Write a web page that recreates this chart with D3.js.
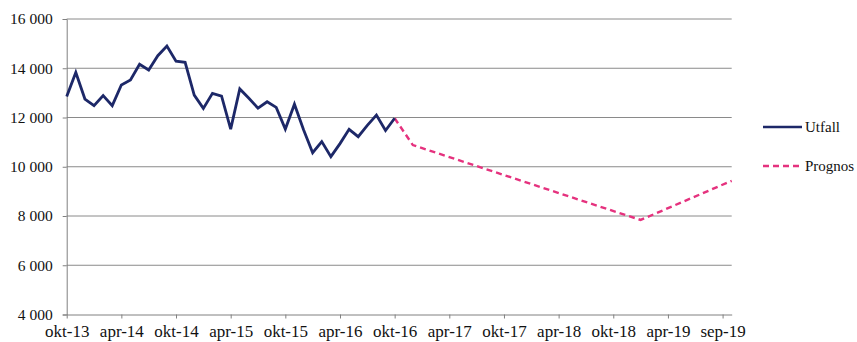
<!DOCTYPE html>
<html>
<head>
<meta charset="utf-8">
<script src="https://cdn.jsdelivr.net/npm/d3@7/dist/d3.min.js"></script>
<style>
  html, body { margin: 0; padding: 0; background: #fff; }
  svg { display: block; }
</style>
</head>
<body>
<svg id="chart" width="857" height="342"></svg>
<script>
// Monthly outcome, okt-13 .. okt-16 (month index 0 = okt-13)
const utfallMonths = d3.range(0, 37);
const utfallValues = [
  12850, 13830, 12750, 12480, 12890, 12480, 13320, 13520, 14160, 13930,
  14510, 14900, 14290, 14240, 12910, 12370, 12980, 12870, 11530, 13160,
  12780, 12380, 12640, 12410, 11530, 12540, 11500, 10570, 11020, 10410,
  10940, 11520, 11220, 11680, 12100, 11470, 11970
];

// Forecast, continuing from the last outcome
const prognosMonths = [36, 38, 63, 73];
const prognosValues = [11970, 10880, 7840, 9430];

// Axis ticks
const xTickMonths = [0, 6, 12, 18, 24, 30, 36, 42, 48, 54, 60, 66, 72];
const xTickLabels = ["okt-13", "apr-14", "okt-14", "apr-15", "okt-15", "apr-16", "okt-16",
                     "apr-17", "okt-17", "apr-18", "okt-18", "apr-19", "sep-19"];
const yTicks = [4000, 6000, 8000, 10000, 12000, 14000, 16000];

const seriesNames = ["Utfall", "Prognos"];
const seriesColors = ["#1d2868", "#e5327e"];

const serif = "Liberation Serif";

const svg = d3.select("#chart");

const x = d3.scaleLinear().domain([0, 73]).range([66.7, 731.7]);
const y = d3.scaleLinear().domain([4000, 16000]).range([314.5, 19]);

const fmt = d3.formatLocale({ decimal: ",", thousands: " ", grouping: [3], currency: ["", ""] }).format(",");

// Horizontal gridlines
svg.append("g")
  .selectAll("line")
  .data(yTicks.filter(d => d > 4000))
  .join("line")
  .attr("x1", x(0)).attr("x2", x(73))
  .attr("y1", d => y(d)).attr("y2", d => y(d))
  .attr("stroke", "#8a8a8a")
  .attr("stroke-width", 1);

// Y axis
const yAxis = svg.append("g")
  .attr("transform", `translate(${x(0)},0)`)
  .call(d3.axisLeft(y).tickValues(yTicks).tickFormat(fmt).tickSize(4).tickPadding(10));
yAxis.select(".domain").attr("stroke", "#808080").attr("stroke-width", 1);
yAxis.selectAll(".tick line").attr("stroke", "#808080");
yAxis.selectAll("text")
  .style("font-family", serif)
  .style("font-size", "15.5px")
  .attr("fill", "#111");

// X axis
const xAxis = svg.append("g")
  .attr("transform", `translate(0,${y(4000)})`)
  .call(d3.axisBottom(x).tickValues(xTickMonths)
    .tickFormat((d, i) => xTickLabels[i]).tickSize(4).tickSizeOuter(0).tickPadding(6));
xAxis.select(".domain").attr("stroke", "#808080").attr("stroke-width", 1);
xAxis.selectAll(".tick line").attr("stroke", "#808080");
xAxis.selectAll("text")
  .style("font-family", serif)
  .style("font-size", "17px")
  .attr("fill", "#111");

const line = d3.line().x(d => x(d[0])).y(d => y(d[1]));

// Forecast line (dashed)
svg.append("path")
  .datum(d3.zip(prognosMonths, prognosValues))
  .attr("d", line)
  .attr("fill", "none")
  .attr("stroke", seriesColors[1])
  .attr("stroke-width", 2.4)
  .attr("stroke-dasharray", "6,4");

// Outcome line
svg.append("path")
  .datum(d3.zip(utfallMonths, utfallValues))
  .attr("d", line)
  .attr("fill", "none")
  .attr("stroke", seriesColors[0])
  .attr("stroke-width", 2.8)
  .attr("stroke-linejoin", "miter");

// Legend
const legend = svg.append("g")
  .selectAll("g")
  .data(seriesNames)
  .join("g")
  .attr("transform", (d, i) => `translate(763,${127 + i * 39})`);
legend.append("line")
  .attr("x1", 0).attr("x2", 39)
  .attr("stroke", (d, i) => seriesColors[i])
  .attr("stroke-width", 2.4)
  .attr("stroke-dasharray", (d, i) => i === 1 ? "6,4" : null);
legend.append("text")
  .attr("x", 42).attr("dy", "0.33em")
  .style("font-family", serif)
  .style("font-size", "15px")
  .attr("fill", "#111")
  .text(d => d);
</script>
</body>
</html>
